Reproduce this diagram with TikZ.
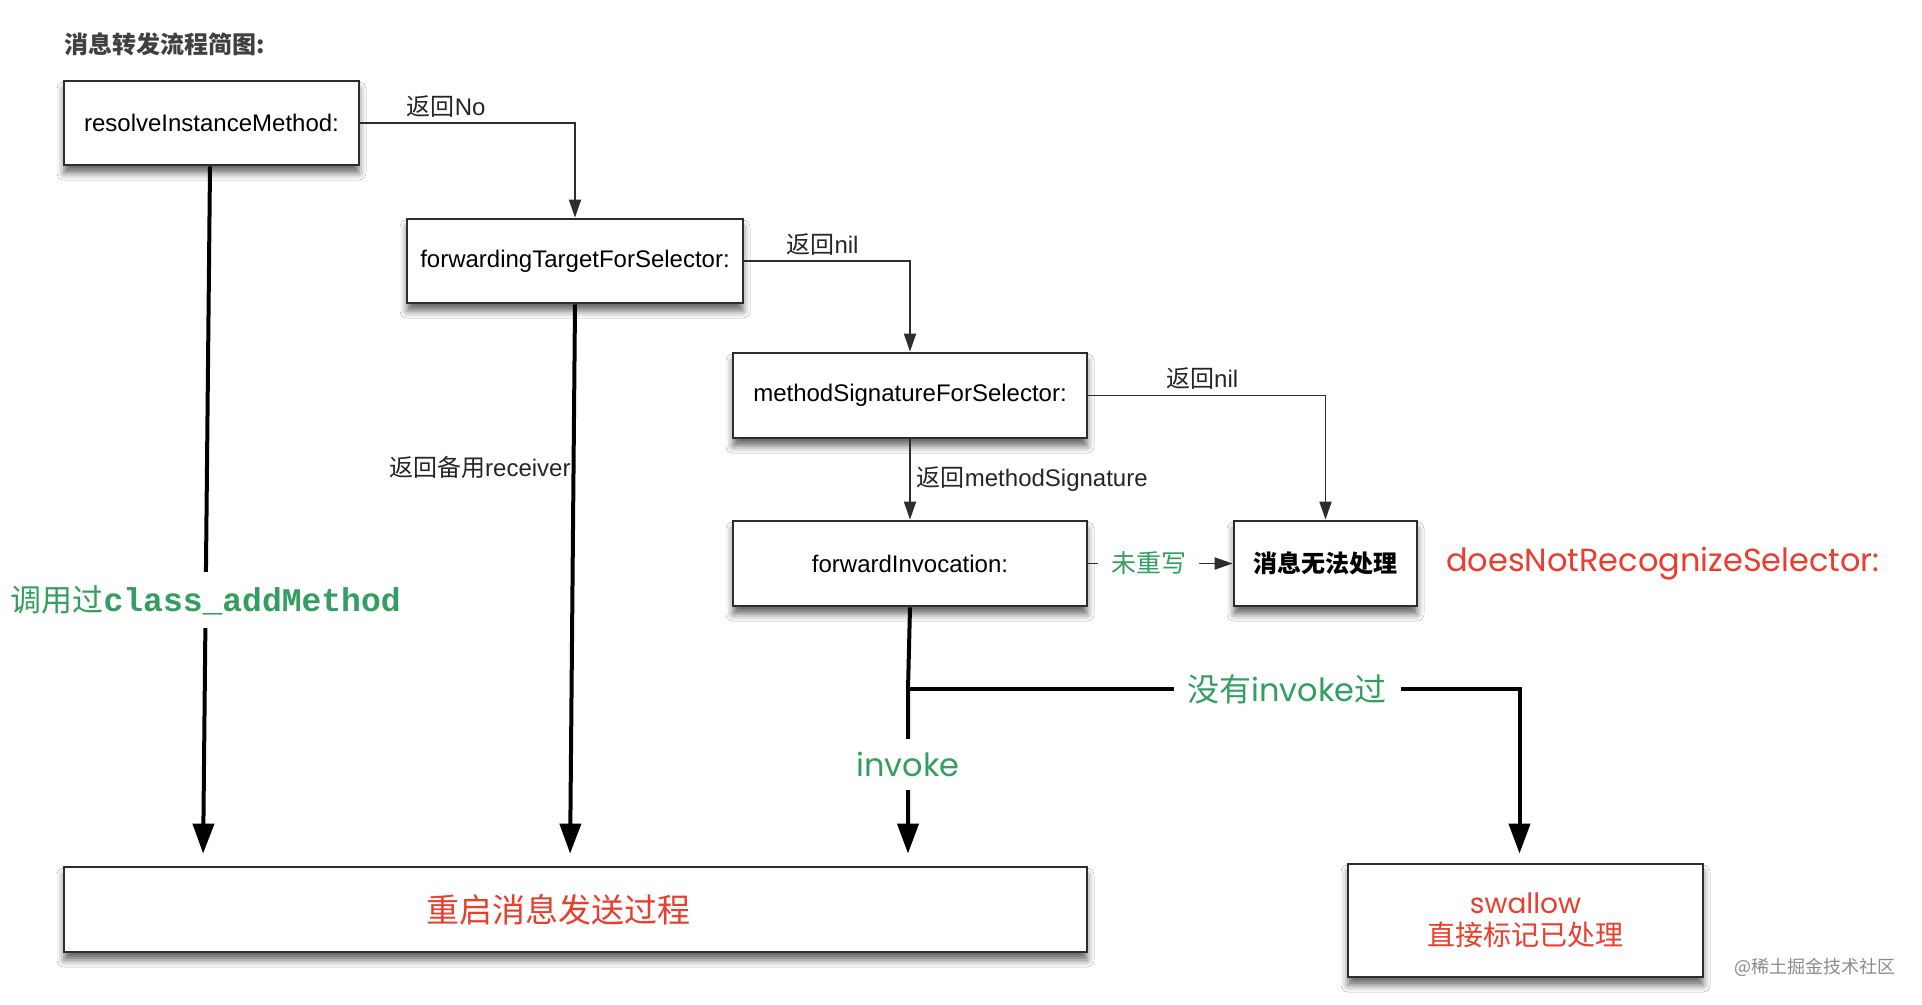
\documentclass[tikz,border=0pt]{standalone}
\usepackage{fontspec}
\setmainfont{Liberation Sans}
\newfontfamily\cjk{Noto Sans CJK SC}
\newfontfamily\geo{Poppins}
\newfontfamily\monob{Liberation Mono}
\usetikzlibrary{arrows.meta,shadows.blur}
\definecolor{grn}{RGB}{52,158,96}
\definecolor{rd}{RGB}{233,61,45}
\definecolor{edgec}{RGB}{45,45,45}
\newcommand\mylab{\fontsize{24}{28}\selectfont}
\newcommand\myboxf{\fontsize{24}{28}\selectfont}
\begin{document}
\begin{tikzpicture}[x=1pt,y=-1pt,
  box/.style={draw=edgec, line width=2.8pt, fill=white, inner sep=0pt,
    blur shadow={shadow xshift=0pt, shadow yshift=-8pt, shadow blur radius=7pt, shadow opacity=60}},
  thinarr/.style={draw=edgec, line width=1.8pt, -{Triangle[length=18pt,width=12pt]}},
  thickarr/.style={draw=black, line width=4pt, -{Triangle[length=30pt,width=21pt]}},
  gap/.style={fill=white, inner ysep=13pt, inner xsep=12pt},
  lbl/.style={font=\mylab, text=black!85, inner sep=1pt}
]
\fill[white] (0,0) rectangle (1922,1004);
\useasboundingbox (0,0) rectangle (1922,1004);

% title
\node[anchor=west, font=\cjk\bfseries\fontsize{24}{28}\selectfont, text=black!75, inner sep=0pt] (title) at (64,44) {消息转发流程简图:};

% boxes
\node[box, minimum width=295pt, minimum height=84pt, font=\myboxf] (b1) at (211.5,123) {resolveInstanceMethod:};
\node[box, minimum width=336pt, minimum height=84pt, font=\myboxf] (b2) at (575,261) {forwardingTargetForSelector:};
\node[box, minimum width=354pt, minimum height=85pt, font=\myboxf] (b3) at (910,395.5) {methodSignatureForSelector:};
\node[box, minimum width=354pt, minimum height=85pt, font=\myboxf] (b4) at (910,563.5) {forwardInvocation:};
\node[box, minimum width=183pt, minimum height=85pt, font=\cjk\bfseries\fontsize{24}{28}\selectfont] (b5) at (1325.5,563.5) {消息无法处理};
\node[box, minimum width=1023pt, minimum height=85pt, font=\cjk\fontsize{33}{36}\selectfont, text=rd] (b6) at (575.5,909.5) {重启消息发送过程\hspace*{34pt}};
\node[box, minimum width=355pt, minimum height=113pt, align=center, text=rd, font=\fontsize{28}{31.5}\selectfont] (b7) at (1525.5,920.5)
  {{\geo swallow}\\{\cjk 直接标记已处理}};

% red side text
\node[anchor=west, font=\geo\fontsize{32}{34}\selectfont, text=rd, inner sep=0pt] (dnr) at (1446,564) {doesNotRecognizeSelector:};

% thin connectors
\draw[thinarr] (b1.east) -| node[lbl, pos=0.2, above=4pt] {{\cjk 返回}No} (b2.north);
\draw[thinarr] (b2.east) -| node[lbl, pos=0.236, above=4pt] {{\cjk 返回}nil} (b3.north);
\draw[thinarr] (b3.east) -| node[lbl, pos=0.24, above=4pt] {{\cjk 返回}nil} (b5.north);
\draw[thinarr] (b3.south) -- node[lbl, right=5pt] {{\cjk 返回}methodSignature} (b4.north);
\draw[thinarr] (b4.east) -- node[pos=0.42, fill=white, inner xsep=13pt, inner ysep=4pt, text=grn, font=\cjk\fontsize{25}{28}\selectfont] {未重写} (b5.west);

% thick connectors
\draw[thickarr, shorten >=12pt] ([xshift=-1.5pt]b1.south) -- node[gap, pos=0.62, text=grn]
  {{\cjk\fontsize{31}{34}\selectfont 调用过}{\monob\bfseries\fontsize{33}{34}\selectfont class\_addMethod}}
  ([xshift=-8.5pt]b1.south |- b6.north);
\draw[thickarr, shorten >=12pt] (b2.south) -- node[lbl, pos=0.29, left=0pt] {{\cjk 返回备用}receiver}
  ([xshift=-5pt]b2.south |- b6.north);
\coordinate (j) at ([xshift=-2pt,yshift=-82pt]b4.south);
\draw[thickarr, shorten >=12pt] (b4.south) -- (j) -- node[gap, pos=0.425, text=grn, font=\geo\fontsize{32}{34}\selectfont] {invoke}
  (j |- b6.north);
\draw[thickarr, shorten >=9pt] (j) -| node[gap, pos=0.31, inner xsep=14pt, text=grn]
  {{\cjk\fontsize{32}{34}\selectfont 没有}{\geo\fontsize{32}{34}\selectfont invoke}{\cjk\fontsize{32}{34}\selectfont 过}}
  ([xshift=-6pt]b7.north);

% watermark
\node[anchor=east, font=\cjk\fontsize{18}{20}\selectfont, text=black!45, inner sep=0pt] (wm) at (1896,967) {@稀土掘金技术社区};
\end{tikzpicture}
\end{document}
